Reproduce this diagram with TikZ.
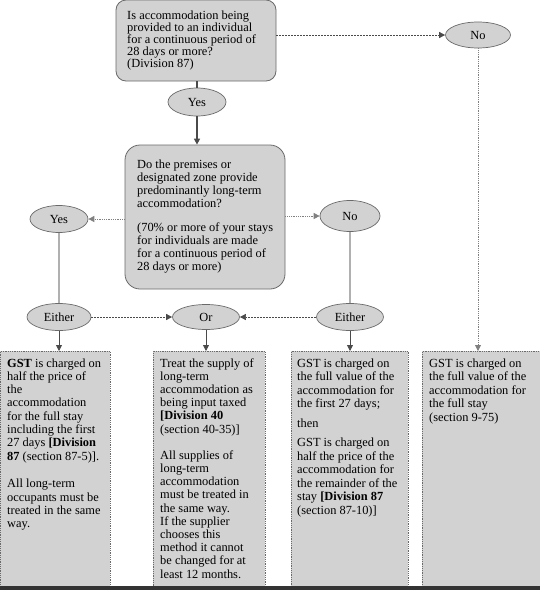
\documentclass[tikz,border=0pt]{standalone}
\usepackage{fontspec}
\setmainfont{Liberation Serif}
\usetikzlibrary{shapes.geometric,arrows.meta}
\definecolor{fillg}{HTML}{D2D2D2}
\definecolor{bordc}{HTML}{6A6A6A}
\definecolor{darkln}{HTML}{4A4A4A}
\definecolor{lightc}{HTML}{B0B0B0}
\definecolor{barc}{HTML}{333333}
\tikzset{
  rbox/.style={draw=bordc, fill=fillg, line width=0.8pt, inner sep=0pt},
  sbox/.style={draw=bordc, fill=fillg, densely dotted, line width=0.8pt, inner sep=0pt, anchor=north west},
  ell/.style={ellipse, draw=bordc, fill=fillg, line width=0.7pt, inner sep=0pt, font=\fontsize{12.4}{12}\selectfont},
  txt/.style={anchor=base west, inner sep=0pt},
  tip/.style={-{Triangle[width=6pt,length=6pt]}},
  thickln/.style={draw=darkln, line width=1.6pt},
  lightln/.style={draw=lightc, line width=1.6pt},
  dashln/.style={draw=darkln, line width=0.6pt, dash pattern=on 2pt off 1pt},
  dotln/.style={draw=gray, line width=0.8pt, densely dotted},
  arrln/.style={draw=darkln, line width=0.8pt},
}
\begin{document}
\begin{tikzpicture}[x=1pt,y=-1pt]
\useasboundingbox (0,0) rectangle (540,590);
\fill[white] (0,0) rectangle (540,590);

% decision boxes
\node[rbox, rounded corners=10pt, minimum width=160pt, minimum height=81pt] (q1) at (196,40.5) {};
\node[txt, font=\fontsize{12.4}{12}\selectfont] (q1t) at (127,19.5) {\parbox[t]{150pt}{Is accommodation being\\ provided to an individual\\ for a continuous period of\\ 28 days or more?\\ (Division 87)}};

\node[rbox, rounded corners=15pt, minimum width=160pt, minimum height=144pt] (q2) at (205,217) {};
\node[txt, font=\fontsize{12.4}{13.1}\selectfont] (q2t) at (137,168) {\parbox[t]{150pt}{Do the premises or\\ designated zone provide\\ predominantly long-term\\ accommodation?\par\vspace{10.7pt}(70\% or more of your stays\\ for individuals are made\\ for a continuous period of\\ 28 days or more)}};

% ellipses
\node[ell, minimum width=58pt, minimum height=28pt] (yes1) at (197,102) {Yes};
\node[ell, minimum width=65pt, minimum height=26pt] (no1) at (478,35) {No};
\node[ell, minimum width=58pt, minimum height=27pt] (yes2) at (59,219) {Yes};
\node[ell, minimum width=60pt, minimum height=31pt] (no2) at (350,216) {No};
\node[ell, minimum width=64pt, minimum height=27pt] (either1) at (59,317) {Either};
\node[ell, minimum width=67pt, minimum height=25pt] (or) at (206,317) {Or};
\node[ell, minimum width=67pt, minimum height=27pt] (either2) at (350,317) {Either};

% result boxes
\node[sbox, minimum width=110pt, minimum height=235pt] (b1) at (0,351) {};
\node[sbox, minimum width=112pt, minimum height=235pt] (b2) at (153,351) {};
\node[sbox, minimum width=117pt, minimum height=235pt] (b3) at (291,351) {};
\node[sbox, minimum width=118pt, minimum height=235pt] (b4) at (422,351) {};

\node[txt, font=\fontsize{12.4}{13.3}\selectfont] (b1t) at (7,367) {\parbox[t]{150pt}{\textbf{GST} is charged on\\ half the price of\\ the\\ accommodation\\ for the full stay\\ including the first\\ 27 days \textbf{[Division}\\ \textbf{87} (section 87-5)].\par\vspace{14.5pt}All long-term\\ occupants must be\\ treated in the same\\ way.}};

\node[txt, font=\fontsize{12.4}{13.2}\selectfont] (b2t) at (160,367) {\parbox[t]{150pt}{Treat the supply of\\ long-term\\ accommodation as\\ being input taxed\\ \textbf{[Division 40}\\ (section 40-35)]\par\vspace{13pt}All supplies of\\ long-term\\ accommodation\\ must be treated in\\ the same way.\\ If the supplier\\ chooses this\\ method it cannot\\ be changed for at\\ least 12 months.}};

\node[txt, font=\fontsize{12.4}{13.5}\selectfont] (b3t) at (297,367) {\parbox[t]{150pt}{GST is charged on\\ the full value of the\\ accommodation for\\ the first 27 days;\par\vspace{6.5pt}then\par\vspace{5.5pt}GST is charged on\\ half the price of the\\ accommodation for\\ the remainder of the\\ stay \textbf{[Division 87}\\ (section 87-10)]}};

\node[txt, font=\fontsize{12.4}{13.5}\selectfont] (b4t) at (429,367) {\parbox[t]{150pt}{GST is charged on\\ the full value of the\\ accommodation for\\ the full stay\\ (section 9-75)}};

% connectors
\draw[thickln] (yes1.north |- q1.south) -- (yes1.north);
\draw[thickln, tip] (yes1.south) -- (yes1.south |- q2.north);
\draw[dashln, tip] (q1.east |- no1.west) -- (no1.west);
\draw[dotln, tip] (no1.south) -- (no1.south |- b4.north);
\draw[dotln, tip] (q2.west |- yes2.east) -- (yes2.east);
\draw[dotln, tip] (q2.east |- no2.west) -- (no2.west);
\draw[lightln] (yes2.south) -- (either1.north);
\draw[lightln] (no2.south) -- (either2.north);
\draw[dashln, tip] (either1.east) -- (or.west);
\draw[dashln, tip] (either2.west) -- (or.east);
\draw[arrln, tip] (either1.south) -- (either1.south |- b1.north);
\draw[arrln, tip] (or.south) -- (or.south |- b2.north);
\draw[arrln, tip] (either2.south) -- (either2.south |- b3.north);

\fill[barc] (0,586) rectangle (540,590);
\end{tikzpicture}
\end{document}
